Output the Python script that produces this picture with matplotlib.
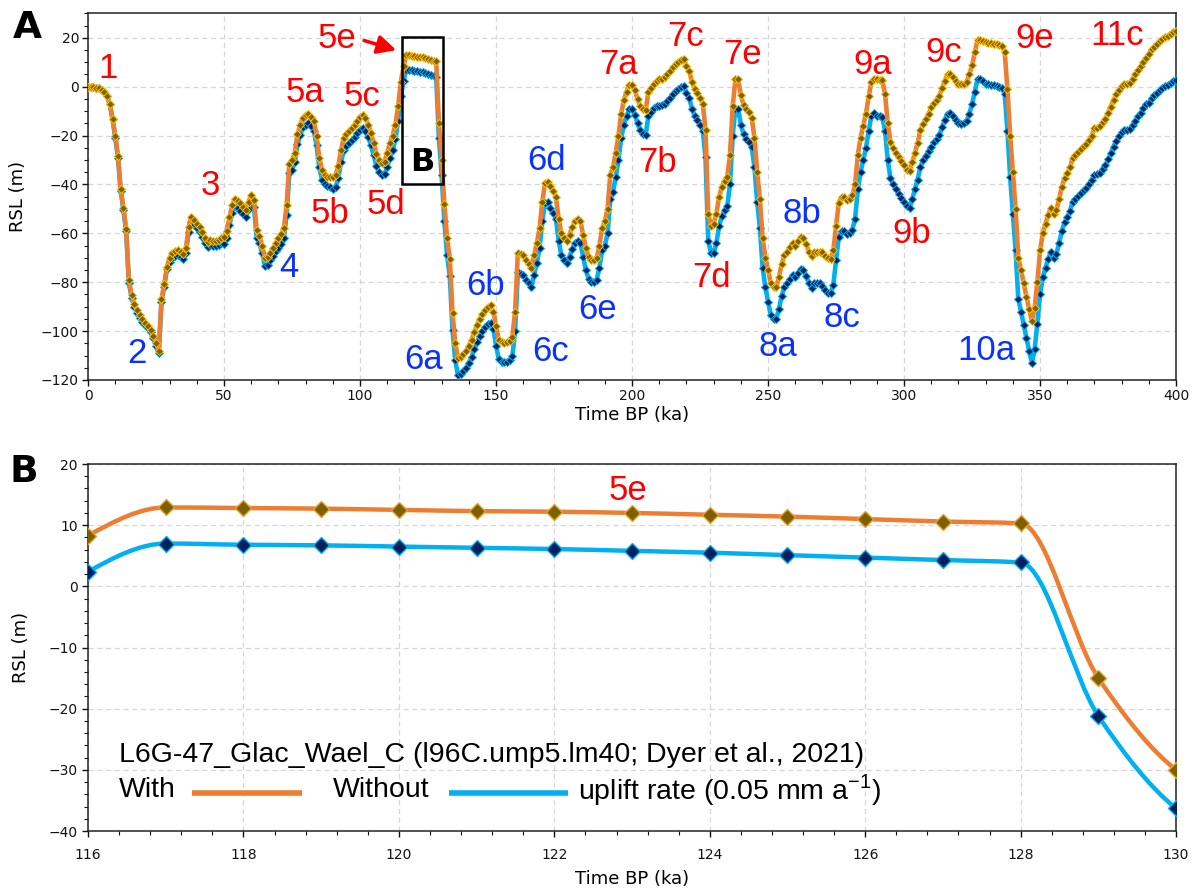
import numpy as np
import matplotlib
matplotlib.use("Agg")
import matplotlib.pyplot as plt
from matplotlib.path import Path
from matplotlib.patches import PathPatch, Rectangle
from matplotlib.ticker import MultipleLocator

# ---- data: panel A, RSL every 1 ka (0..400 ka) ----
time_ka = np.arange(0, 401)

rsl_with = [
    0, 0, -0.2, -0.4, -0.7, -1.2, -2.0, -3.7, -7.3, -13.2,
    -20, -28.2, -41.8, -49.5, -58.2, -79.2, -85.3, -89, -91.4, -93.5,
    -95.2, -96.6, -97.8, -99.5, -102, -105, -108, -87, -80.8, -73.7,
    -69.9, -68, -67.3, -67, -67.5, -68.5, -66, -57.3, -53.3, -54.6,
    -56, -57.3, -59.4, -62, -63.5, -62.8, -63, -63.2, -62.8, -62,
    -61.5, -59, -53.5, -48.5, -45.8, -46.7, -47.8, -49.2, -50.5, -47,
    -44.5, -46.3, -58.8, -61, -65, -70.3, -69.8, -68, -66.2, -64.1,
    -62.1, -60.3, -58, -48.5, -31.5, -30, -27, -19.5, -15.8, -12.7,
    -11.5, -11, -12.3, -14, -20, -29, -34, -36, -36.8, -37,
    -37, -36.2, -32.5, -26, -21, -19.2, -18, -17, -15.5, -14,
    -12.6, -11.8, -13, -15.5, -19, -23, -27.4, -30, -31.2, -30.7,
    -27, -23, -20, -15.5, -8, 2, 8.3, 12.9, 12.8, 12.7,
    12.5, 12.3, 12.2, 12.0, 11.7, 11.4, 11.0, 10.6, 10.3, -15,
    -30, -48, -62, -70.5, -92.7, -105, -111, -110.5, -109.5, -108,
    -106, -103.5, -100.5, -97.5, -95, -93, -91.5, -90, -89.5, -92,
    -98, -103.5, -104.5, -104.7, -104.5, -104, -102.3, -92, -68, -68.5,
    -69, -71, -72.5, -74, -69, -64, -58, -47, -39.5, -39.2,
    -40.5, -42.5, -45, -54, -60, -61.8, -63, -60.5, -57.5, -54.8,
    -54, -55, -60.5, -66, -69.5, -71, -71, -70, -65, -58,
    -55, -50, -36, -33, -27, -20, -11, -5.5, -2, 0.8,
    0.7, -1.5, -5, -7.8, -9.3, -9.7, -2.2, -0.5, 1.2, 2.2,
    3, 3.3, 3.9, 5, 6.3, 8, 9.4, 10, 10.7, 11.4,
    8.5, 6.5, 2, -1, -2.7, -4.5, -7, -17.8, -52, -57,
    -56, -52, -45, -41, -38.5, -36.9, -28, -8, 3, 3,
    -3.5, -7.5, -9.3, -10.5, -12.8, -21, -35, -46, -62, -70,
    -75, -80.5, -82, -82, -78, -72.5, -69, -67.5, -65.8, -64,
    -65, -63.3, -61.5, -62, -64.5, -67.5, -69.3, -67.5, -67.5, -67.5,
    -67.5, -69.2, -70.3, -70.5, -67, -57, -47.5, -45.2, -45, -46.4,
    -46, -44.5, -40, -28, -21, -16, -11, -4, 2, 3.1,
    3.1, 2.9, 2.6, -3, -15, -22.5, -25, -27, -28.8, -30.5,
    -32, -34, -34.5, -31, -27, -23, -17.8, -15.1, -13.2, -11.2,
    -8.5, -6.8, -5.3, -3.8, -0.5, 2.5, 5, 5.3, 4, 2.2,
    1.2, 0.9, 1, 2, 5, 8.7, 14, 19, 19, 18.5,
    18.2, 18, 17.8, 17.6, 17.4, 17, 16.5, 14, -1, -20,
    -35, -50, -70, -75, -80.5, -86, -91, -96, -90.5, -80,
    -67, -60, -56, -52.5, -49.5, -52, -50.5, -46, -41, -37.5,
    -35.5, -33, -29, -27.8, -26.7, -25.5, -24.3, -23.3, -21.8, -20,
    -17, -16.8, -16.3, -14.5, -13.1, -10.8, -8.2, -5.5, -3.2, -1.2,
    0.3, 1.2, 1.2, 1.5, 3.2, 5, 6.8, 8.4, 10.2, 11.9,
    13.5, 15.2, 16.4, 17.5, 18.5, 19.3, 20.2, 20.8, 21.5, 22.2,
    22.8,
]

rsl_without = [
    0, 0, -0.2, -0.4, -0.7, -1.2, -2.0, -3.7, -7.3, -13.2,
    -21, -29.2, -42.8, -50.5, -59.2, -80.2, -86.3, -90, -92.4, -94.5,
    -96.2, -97.6, -98.8, -100.5, -103, -106, -109, -88, -81.8, -74.7,
    -71.9, -70, -69.3, -69, -69.5, -70.5, -68, -59.3, -55.3, -56.6,
    -58, -59.3, -61.4, -64, -65.5, -64.8, -65, -65.2, -64.8, -64,
    -64.5, -62, -56.5, -51.5, -48.8, -49.7, -50.8, -52.2, -53.5, -50,
    -47.5, -49.3, -61.8, -64, -68, -73.3, -72.8, -71, -69.2, -67.1,
    -66.1, -64.3, -62, -52.5, -35.5, -34, -31, -23.5, -19.8, -16.7,
    -15.5, -15, -16.3, -18, -24, -33, -38, -40, -40.8, -41,
    -42, -41.2, -37.5, -31, -26, -24.2, -23, -22, -20.5, -19,
    -17.6, -16.8, -18, -20.5, -24, -28, -32.4, -35, -36.2, -35.7,
    -33, -29, -26, -21.5, -14, -4, 2.4, 7.0, 6.8, 6.7,
    6.5, 6.3, 6.1, 5.8, 5.5, 5.1, 4.7, 4.3, 3.9, -21.2,
    -36.3, -55, -69, -77.5, -99.7, -112, -118, -117.5, -116.5, -115,
    -113, -110.5, -107.5, -104.5, -102, -100, -98.5, -97, -96.5, -99,
    -106, -111.5, -112.5, -112.7, -112.5, -112, -110.3, -100, -76, -76.5,
    -77, -79, -80.5, -82, -77, -72, -66, -55, -47.5, -47.2,
    -49.5, -51.5, -54, -63, -69, -70.8, -72, -69.5, -66.5, -63.8,
    -63, -64, -69.5, -75, -78.5, -80, -80, -79, -74, -67,
    -65, -60, -46, -43, -37, -30, -21, -15.5, -12, -9.2,
    -9.3, -11.5, -15, -17.8, -19.3, -19.7, -12.2, -10.5, -8.8, -7.8,
    -8, -7.7, -7.1, -6, -4.7, -3, -1.6, -1, -0.3, 0.4,
    -2.5, -4.5, -9, -12, -13.7, -15.5, -18, -28.8, -63, -68,
    -68, -64, -57, -53, -50.5, -48.9, -40, -20, -9, -9,
    -15.5, -19.5, -21.3, -22.5, -24.8, -33, -47, -58, -74, -82,
    -88, -93.5, -95, -95, -91, -85.5, -82, -80.5, -78.8, -77,
    -78, -76.3, -74.5, -75, -77.5, -80.5, -82.3, -80.5, -80.5, -80.5,
    -81.5, -83.2, -84.3, -84.5, -81, -71, -61.5, -59.2, -59, -60.4,
    -60, -58.5, -54, -42, -35, -30, -25, -18, -12, -10.9,
    -11.9, -12.1, -12.4, -18, -30, -37.5, -40, -42, -43.8, -45.5,
    -47, -49, -49.5, -46, -42, -38, -32.8, -30.1, -28.2, -26.2,
    -24.5, -22.8, -21.3, -19.8, -16.5, -13.5, -11, -10.7, -12, -13.8,
    -14.8, -15.1, -15, -14, -11, -7.3, -2, 3, 3, 2.5,
    1.2, 1, 0.8, 0.6, 0.4, 0, -0.5, -3, -18, -37,
    -52, -67, -87, -92, -97.5, -103, -108, -113, -107.5, -97,
    -85, -78, -74, -70.5, -67.5, -70, -68.5, -64, -59, -55.5,
    -53.5, -51, -47, -45.8, -44.7, -43.5, -42.3, -41.3, -39.8, -38,
    -36, -35.8, -35.3, -33.5, -32.1, -29.8, -27.2, -24.5, -22.2, -20.2,
    -18.7, -17.8, -17.8, -17.5, -15.8, -14, -12.2, -10.6, -8.8, -7.1,
    -6.5, -4.8, -3.6, -2.5, -1.5, -0.7, 0.2, 0.8, 1.5, 2.2,
    2.8,
]

# ---- data: panel B, MIS 5e window ----
b_time = [116, 117, 118, 119, 120, 121, 122, 123, 124, 125, 126, 127, 128, 129, 130]
b_with = [8.3, 12.9, 12.8, 12.7, 12.5, 12.3, 12.2, 12.0, 11.7, 11.4, 11.0, 10.6, 10.3, -15, -30]
b_without = [2.4, 7.0, 6.8, 6.7, 6.5, 6.3, 6.1, 5.8, 5.5, 5.1, 4.7, 4.3, 3.9, -21.2, -36.3]

# stage labels for panel A: (text, time, rsl, colour)
red = '#FF0000'
blu = '#0A32FF'
stage_labels = [
    ('1', 7.2, 7.3, red), ('2', 17.9, -109, blu), ('3', 45.1, -40.3, red),
    ('4', 74.0, -74, blu), ('5a', 79.9, -2.2, red), ('5b', 89, -51.9, red),
    ('5c', 100.7, -4.2, red), ('5d', 109.5, -48.1, red),
    ('6a', 123.4, -111.8, blu), ('6b', 146.1, -81.2, blu), ('6c', 170.1, -108.4, blu),
    ('6d', 168.4, -30.4, blu), ('6e', 187.2, -91, blu),
    ('7a', 195.2, 9.1, red), ('7b', 209.3, -31, red), ('7c', 219.7, 20.7, red),
    ('7d', 229.1, -78, red), ('7e', 240.5, 13.2, red),
    ('8a', 253.7, -106.4, blu), ('8b', 262.6, -51.9, blu), ('8c', 277, -94.4, blu),
    ('9a', 288.4, 9.1, red), ('9b', 302.7, -60, red), ('9c', 314.4, 13.9, red),
    ('9e', 347.9, 19.6, red), ('10a', 330.3, -108, blu), ('11c', 378.5, 21, red),
]

ORANGE = '#ED7D31'
CYAN = '#00B0F0'
LABEL_FONT = 'Liberation Sans'
LABEL_SIZE = 25


def pchip_slopes(x, y):
  x = np.asarray(x, float)
  y = np.asarray(y, float)
  h = np.diff(x)
  d = np.diff(y) / h
  m = np.zeros_like(y)
  for i in range(1, len(x) - 1):
    if d[i - 1] * d[i] <= 0:
      m[i] = 0.0
    else:
      w1 = 2 * h[i] + h[i - 1]
      w2 = h[i] + 2 * h[i - 1]
      m[i] = (w1 + w2) / (w1 / d[i - 1] + w2 / d[i])
  m[0] = ((2 * h[0] + h[1]) * d[0] - h[0] * d[1]) / (h[0] + h[1])
  m[-1] = ((2 * h[-1] + h[-2]) * d[-1] - h[-1] * d[-2]) / (h[-1] + h[-2])
  return m


def smooth_path(x, y):
  # monotone cubic through the points, drawn as bezier segments
  m = pchip_slopes(x, y)
  verts = [(x[0], y[0])]
  codes = [Path.MOVETO]
  for i in range(len(x) - 1):
    h = x[i + 1] - x[i]
    verts += [(x[i] + h / 3, y[i] + m[i] * h / 3),
              (x[i + 1] - h / 3, y[i + 1] - m[i + 1] * h / 3),
              (x[i + 1], y[i + 1])]
    codes += [Path.CURVE4] * 3
  return Path(verts, codes)


def style_axes(ax):
  ax.set_axisbelow(True)
  ax.grid(True, which='major', linestyle=(0, (4, 3)), color='#D6D6D6', linewidth=0.9)
  ax.tick_params(which='both', direction='out', top=False, right=False,
                 labelsize=10, colors='#111111')
  ax.tick_params(which='major', length=4, width=1)
  ax.tick_params(which='minor', length=3, width=0.8)
  for s in ax.spines.values():
    s.set_linewidth(1.1)
    s.set_color('#222222')


fig = plt.figure(figsize=(11.98, 8.93), dpi=100)

# ---------------- panel A ----------------
ax1 = fig.add_axes([0.0735, 0.5745, 0.9082, 0.4106])
ax1.plot(time_ka, rsl_without, color=CYAN, lw=3.3, solid_joinstyle='round',
         marker='D', ms=4.0, mfc='#002060', mec=CYAN, mew=0.7, zorder=3)
ax1.plot(time_ka, rsl_with, color=ORANGE, lw=3.3, solid_joinstyle='round',
         marker='D', ms=4.0, mfc='#7F6000', mec='#FFC000', mew=0.7, zorder=4)
ax1.set_xlim(0, 400)
ax1.set_ylim(-120, 30)
ax1.set_xticks(np.arange(0, 401, 50))
ax1.set_yticks(np.arange(-120, 21, 20))
ax1.xaxis.set_minor_locator(MultipleLocator(10))
ax1.yaxis.set_minor_locator(MultipleLocator(5))
style_axes(ax1)
ax1.tick_params(which='major', pad=2.5)
ax1.set_xlabel('Time BP (ka)', fontsize=13)
ax1.set_ylabel('RSL (m)', fontsize=13)
ax1.xaxis.set_label_coords(0.5, -0.07)
ax1.yaxis.set_label_coords(-0.056, 0.5)

for txt, tx, ty, col in stage_labels:
  ax1.text(tx, ty, txt, color=col, fontsize=LABEL_SIZE, family=LABEL_FONT,
           ha='center', va='center', zorder=6)

ax1.text(91.5, 19.5, '5e', color=red, fontsize=LABEL_SIZE, family=LABEL_FONT,
         ha='center', va='center', zorder=6)
ax1.annotate('', xy=(114.3, 14.6), xytext=(100.5, 19.2),
             arrowprops=dict(arrowstyle='-|>', color=red, lw=2.5, mutation_scale=28),
             zorder=6)
ax1.add_patch(Rectangle((115.4, -40), 15.1, 60.3, fill=False, ec='black', lw=1.8, zorder=7))
ax1.text(123, -31, 'B', fontsize=23, fontweight='heavy', ha='center', va='center',
         color='black', zorder=7)

# ---------------- panel B ----------------
ax2 = fig.add_axes([0.0735, 0.0694, 0.9082, 0.411])
ax2.add_patch(PathPatch(smooth_path(b_time, b_without), fill=False, ec=CYAN, lw=3.2,
                        capstyle='round', zorder=3))
ax2.add_patch(PathPatch(smooth_path(b_time, b_with), fill=False, ec=ORANGE, lw=3.2,
                        capstyle='round', zorder=3))
ax2.plot(b_time, b_without, ls='none', marker='D', ms=8.5, mfc='#002060', mec=CYAN,
         mew=1.0, zorder=4)
ax2.plot(b_time, b_with, ls='none', marker='D', ms=8.5, mfc='#7F6000', mec='#E3A32E',
         mew=1.0, zorder=4)
ax2.set_xlim(116, 130)
ax2.set_ylim(-40, 20)
ax2.set_xticks(np.arange(116, 131, 2))
ax2.set_yticks(np.arange(-40, 21, 10))
ax2.xaxis.set_minor_locator(MultipleLocator(0.4))
ax2.yaxis.set_minor_locator(MultipleLocator(2))
style_axes(ax2)
ax2.tick_params(axis='x', which='major', pad=8)
ax2.set_xlabel('Time BP (ka)', fontsize=13)
ax2.set_ylabel('RSL (m)', fontsize=13)
ax2.xaxis.set_label_coords(0.5, -0.105)
ax2.yaxis.set_label_coords(-0.053, 0.5)

ax2.text(122.95, 15.6, '5e', color=red, fontsize=LABEL_SIZE, family=LABEL_FONT,
         ha='center', va='center')

# legend-like text block
tfs = 20.5
ax2.text(0.0285, 0.2077, 'L6G-47_Glac_Wael_C (l96C.ump5.lm40; Dyer et al., 2021)',
         transform=ax2.transAxes, fontsize=tfs, family=LABEL_FONT, va='center', ha='left')
ax2.text(0.0285, 0.112, 'With', transform=ax2.transAxes, fontsize=tfs,
         family=LABEL_FONT, va='center', ha='left')
ax2.plot([0.0956, 0.1967], [0.1046, 0.1046], transform=ax2.transAxes, color=ORANGE,
         lw=4, solid_capstyle='butt')
ax2.text(0.2252, 0.112, 'Without', transform=ax2.transAxes, fontsize=tfs,
         family=LABEL_FONT, va='center', ha='left')
ax2.plot([0.3318, 0.4412], [0.1046, 0.1046], transform=ax2.transAxes, color=CYAN,
         lw=4, solid_capstyle='butt')
ax2.text(0.4504, 0.112, r'uplift rate (0.05 mm a$^{\mathregular{-1}}$)',
         transform=ax2.transAxes, fontsize=tfs, family=LABEL_FONT, va='center', ha='left')

# panel letters
fig.text(27.5 / 1198, 1 - 27.5 / 893, 'A', fontsize=27, fontweight='heavy',
         ha='center', va='center')
fig.text(24 / 1198, 1 - 472 / 893, 'B', fontsize=27, fontweight='heavy',
         ha='center', va='center')

fig.savefig('out.png', dpi=100)
